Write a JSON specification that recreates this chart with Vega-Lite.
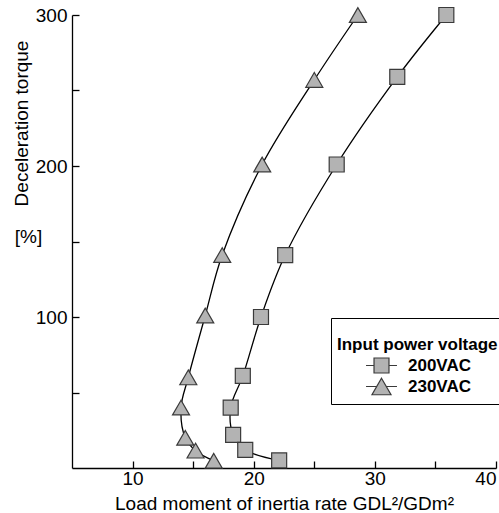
{
  "$schema": "https://vega.github.io/schema/vega-lite/v6.json",
  "width": 424,
  "height": 453,
  "autosize": "none",
  "padding": {"left": 72, "top": 15, "right": 3, "bottom": 45},
  "background": "white",
  "config": {
    "view": {"stroke": null},
    "font": "Liberation Sans",
    "axis": {
      "grid": false,
      "domainColor": "black",
      "domainWidth": 1.3,
      "tickColor": "black",
      "tickWidth": 1.3,
      "tickSize": -7,
      "labelFont": "Liberation Sans",
      "labelFontSize": 19,
      "labelColor": "black",
      "titleFont": "Liberation Sans",
      "titleFontSize": 19,
      "titleFontWeight": "normal",
      "titleColor": "black"
    }
  },
  "data": {
    "values": [
      {"series": "200VAC", "x": 35.9, "y": 300},
      {"series": "200VAC", "x": 31.85, "y": 259},
      {"series": "200VAC", "x": 26.85, "y": 201},
      {"series": "200VAC", "x": 22.6, "y": 141},
      {"series": "200VAC", "x": 20.6, "y": 100},
      {"series": "200VAC", "x": 19.1, "y": 61},
      {"series": "200VAC", "x": 18.1, "y": 40},
      {"series": "200VAC", "x": 18.3, "y": 22},
      {"series": "200VAC", "x": 19.3, "y": 12},
      {"series": "200VAC", "x": 22.1, "y": 5},
      {"series": "230VAC", "x": 28.6, "y": 300},
      {"series": "230VAC", "x": 25.0, "y": 257},
      {"series": "230VAC", "x": 20.7, "y": 201},
      {"series": "230VAC", "x": 17.4, "y": 141},
      {"series": "230VAC", "x": 16.0, "y": 101},
      {"series": "230VAC", "x": 14.6, "y": 60},
      {"series": "230VAC", "x": 14.0, "y": 40},
      {"series": "230VAC", "x": 14.35, "y": 20},
      {"series": "230VAC", "x": 15.2, "y": 11.5},
      {"series": "230VAC", "x": 16.7, "y": 4.8}
    ]
  },
  "encoding": {
    "x": {
      "field": "x",
      "type": "quantitative",
      "scale": {"domain": [5, 40], "nice": false, "zero": false},
      "axis": {
        "values": [10, 15, 20, 25, 30, 35, 40],
        "labelExpr": "datum.value % 10 === 0 ? datum.label : ''",
        "labelPadding": 8,
        "title": "Load moment of inertia rate GDL²/GDm²",
        "titlePadding": 6
      }
    },
    "y": {
      "field": "y",
      "type": "quantitative",
      "scale": {"domain": [0, 300], "nice": false, "zero": true}
    }
  },
  "layer": [
    {
      "mark": {"type": "line", "interpolate": "catmull-rom", "color": "black", "strokeWidth": 1.3},
      "encoding": {
        "detail": {"field": "series"},
        "order": {"field": "y", "type": "quantitative"},
        "y": {
          "field": "y",
          "type": "quantitative",
          "axis": {
            "orient": "left",
            "values": [50, 100, 150, 200, 250, 300],
            "labelExpr": "datum.value % 100 === 0 ? datum.label : ''",
            "labelPadding": 12,
            "title": "Deceleration torque",
            "titleFontSize": 19,
            "titleAngle": -90,
            "titleAlign": "center",
            "titleBaseline": "middle",
            "titleX": -51,
            "titleY": 108
          }
        }
      }
    },
    {
      "mark": {"type": "point", "filled": true, "opacity": 1, "fill": "#b3b3b3", "stroke": "#3a3a3a", "strokeWidth": 1.2},
      "encoding": {
        "y": {
          "field": "y",
          "type": "quantitative",
          "axis": {
            "orient": "left",
            "labels": false,
            "ticks": false,
            "domain": false,
            "title": "[%]",
            "titleAngle": 0,
            "titleAlign": "center",
            "titleBaseline": "middle",
            "titleX": -44,
            "titleY": 221
          }
        },
        "shape": {
          "field": "series",
          "type": "nominal",
          "scale": {"domain": ["200VAC", "230VAC"], "range": ["square", "triangle-up"]},
          "legend": null
        },
        "size": {
          "condition": {"test": "datum.series === '230VAC'", "value": 289},
          "value": 225
        }
      }
    },
    {
      "mark": {"type": "point", "filled": true, "size": 0, "fill": "#b3b3b3", "stroke": "#3a3a3a", "strokeWidth": 0},
      "encoding": {
        "y": {"field": "y", "type": "quantitative", "axis": null},
        "shape": {
          "field": "series",
          "type": "nominal",
          "scale": {
            "domain": ["200VAC", "230VAC"],
            "range": [
              "M-0.88,-0.88H0.88V0.88H-0.88Z M-1.82,0H-0.88 M0.88,0H1.82",
              "M0,-0.97L1.12,0.97L-1.12,0.97Z M-1.82,0H-0.56 M0.56,0H1.82"
            ]
          },
          "legend": {
            "title": "Input power voltage",
            "orient": "none",
            "legendX": 259,
            "legendY": 303,
            "padding": 6,
            "strokeColor": "black",
            "fillColor": "white",
            "cornerRadius": 0,
            "titleFont": "Liberation Sans",
            "titleFontSize": 17,
            "titleFontWeight": "bold",
            "titleColor": "black",
            "titleBaseline": "line-top",
            "titleLineHeight": 42,
            "titlePadding": 15,
            "labelFont": "Liberation Sans",
            "labelFontSize": 17,
            "labelFontWeight": "bold",
            "labelColor": "black",
            "symbolOffset": 35,
            "labelOffset": 17,
            "rowPadding": -1,
            "symbolSize": 289,
            "symbolFillColor": "#b3b3b3",
            "symbolStrokeColor": "#3a3a3a",
            "symbolStrokeWidth": 1.2,
            "symbolOpacity": 1,
            "encoding": {
              "symbols": {
                "fill": {"value": "#b3b3b3"},
                "stroke": {"value": "#3a3a3a"},
                "strokeWidth": {"value": 1.2},
                "size": {"value": 289},
                "opacity": {"value": 1}
              }
            }
          }
        }
      }
    }
  ],
  "resolve": {"axis": {"y": "independent"}, "scale": {"shape": "independent"}}
}
